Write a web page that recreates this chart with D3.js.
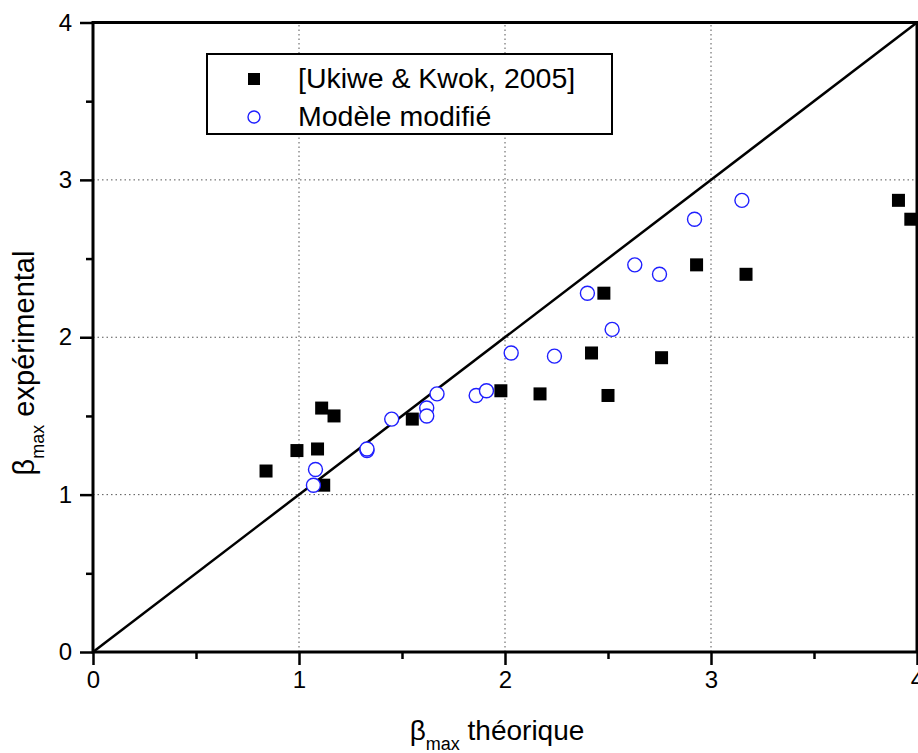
<!DOCTYPE html>
<html>
<head>
<meta charset="utf-8">
<script src="https://cdn.jsdelivr.net/npm/d3@7"></script>
<style>
  body { margin: 0; background: #fff; }
  text { font-family: "Liberation Sans", Arial, sans-serif; }
</style>
</head>
<body>
<div id="chart"></div>
<script>
// Ukiwe & Kwok (2005) - black squares
const ukiweX = [0.84, 0.99, 1.09, 1.11, 1.17, 1.12, 1.55, 1.98, 2.17, 2.42, 2.48, 2.50, 2.76, 2.93, 3.17, 3.91, 3.97];
const ukiweY = [1.15, 1.28, 1.29, 1.55, 1.50, 1.06, 1.48, 1.66, 1.64, 1.90, 2.28, 1.63, 1.87, 2.46, 2.40, 2.87, 2.75];

// Modele modifie - blue open circles
const modelX = [1.08, 1.07, 1.33, 1.33, 1.45, 1.62, 1.62, 1.67, 1.86, 1.91, 2.03, 2.24, 2.40, 2.52, 2.63, 2.75, 2.92, 3.15];
const modelY = [1.16, 1.06, 1.28, 1.29, 1.48, 1.55, 1.50, 1.64, 1.63, 1.66, 1.90, 1.88, 2.28, 2.05, 2.46, 2.40, 2.75, 2.87];

const majorTicks = [0, 1, 2, 3, 4];
const minorTicks = [0.5, 1.5, 2.5, 3.5];
const gridTicks = [1, 2, 3];
const identityLine = [[0, 0], [4, 4]];
const legendLabels = ['[Ukiwe & Kwok, 2005]', 'Modèle modifié'];

const width = 918, height = 753;
const svg = d3.select('#chart').append('svg')
    .attr('width', width)
    .attr('height', height);

const x = d3.scaleLinear().domain([0, 4]).range([93, 917]);
const y = d3.scaleLinear().domain([0, 4]).range([652, 22.5]);

// dotted grid
svg.selectAll('.vgrid').data(gridTicks).enter().append('line')
    .attr('x1', d => x(d)).attr('x2', d => x(d))
    .attr('y1', y(0)).attr('y2', y(4))
    .attr('stroke', '#555').attr('stroke-width', 1)
    .attr('stroke-dasharray', '1.5,3');
svg.selectAll('.hgrid').data(gridTicks).enter().append('line')
    .attr('y1', d => y(d)).attr('y2', d => y(d))
    .attr('x1', x(0)).attr('x2', x(4))
    .attr('stroke', '#555').attr('stroke-width', 1)
    .attr('stroke-dasharray', '1.5,3');

// axes: major ticks with labels, minor without
const fmt = d3.format('d');
const xMajor = svg.append('g').attr('transform', `translate(0,${y(0)})`)
    .call(d3.axisBottom(x).tickValues(majorTicks).tickSize(13).tickPadding(6).tickFormat(fmt));
const xMinor = svg.append('g').attr('transform', `translate(0,${y(0)})`)
    .call(d3.axisBottom(x).tickValues(minorTicks).tickSize(7).tickFormat(''));
const yMajor = svg.append('g').attr('transform', `translate(${x(0)},0)`)
    .call(d3.axisLeft(y).tickValues(majorTicks).tickSize(13).tickPadding(8).tickFormat(fmt));
const yMinor = svg.append('g').attr('transform', `translate(${x(0)},0)`)
    .call(d3.axisLeft(y).tickValues(minorTicks).tickSize(7).tickFormat(''));

[xMajor, xMinor, yMajor, yMinor].forEach(g => {
    g.select('.domain').remove();
    g.selectAll('.tick line').attr('stroke', '#000').attr('stroke-width', 2.5);
    g.selectAll('.tick text').attr('fill', '#000')
        .style('font-size', '24px')
        .style('font-family', '"Liberation Sans", Arial, sans-serif');
});

// frame
svg.append('rect')
    .attr('x', x(0)).attr('y', y(4))
    .attr('width', x(4) - x(0)).attr('height', y(0) - y(4))
    .attr('fill', 'none').attr('stroke', '#000').attr('stroke-width', 3);

// y = x line
svg.append('path')
    .datum(identityLine)
    .attr('d', d3.line().x(d => x(d[0])).y(d => y(d[1])))
    .attr('stroke', '#000').attr('stroke-width', 2.5).attr('fill', 'none');

// squares
const sq = 13;
svg.selectAll('.sq').data(ukiweX.map((v, i) => [v, ukiweY[i]])).enter().append('rect')
    .attr('x', d => x(d[0]) - sq / 2)
    .attr('y', d => y(d[1]) - sq / 2)
    .attr('width', sq).attr('height', sq)
    .attr('fill', '#000');

// circles
svg.selectAll('.circ').data(modelX.map((v, i) => [v, modelY[i]])).enter().append('circle')
    .attr('cx', d => x(d[0]))
    .attr('cy', d => y(d[1]))
    .attr('r', 7)
    .attr('fill', '#fff')
    .attr('stroke', '#1f1fff')
    .attr('stroke-width', 1.4);

// legend
const legend = svg.append('g');
legend.append('rect')
    .attr('x', 207).attr('y', 54).attr('width', 405).attr('height', 80)
    .attr('fill', '#fff').attr('stroke', '#000').attr('stroke-width', 2);
legend.append('rect')
    .attr('x', 254 - 6).attr('y', 79 - 6).attr('width', 12).attr('height', 12)
    .attr('fill', '#000');
legend.append('circle')
    .attr('cx', 254).attr('cy', 117).attr('r', 6)
    .attr('fill', '#fff').attr('stroke', '#1f1fff').attr('stroke-width', 1.4);
legend.selectAll('.lt').data(legendLabels).enter().append('text')
    .attr('x', 298)
    .attr('y', (d, i) => 88 + i * 38)
    .style('font-size', '28.5px')
    .attr('fill', '#000')
    .text(d => d);

// x title
const xt = svg.append('text')
    .attr('x', 497).attr('y', 740)
    .attr('text-anchor', 'middle')
    .style('font-size', '28px');
xt.append('tspan').text('β');
xt.append('tspan').attr('dy', 10).style('font-size', '18px').text('max');
xt.append('tspan').attr('dy', -10).text(' théorique');

// y title
const yt = svg.append('text')
    .attr('transform', 'translate(34,363) rotate(-90)')
    .attr('text-anchor', 'middle')
    .style('font-size', '29px');
yt.append('tspan').text('β');
yt.append('tspan').attr('dy', 10).style('font-size', '18px').text('max');
yt.append('tspan').attr('dy', -10).text(' expérimental');
</script>
</body>
</html>
